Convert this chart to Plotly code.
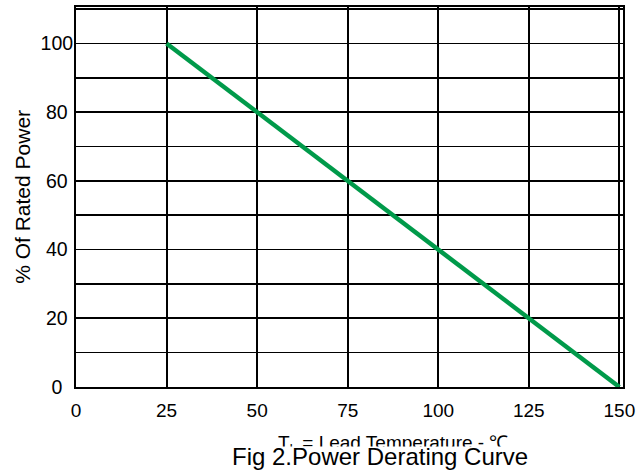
import plotly.graph_objects as go

# Data
temperature = [25, 150]
rated_power = [100, 0]
x_ticks = [0, 25, 50, 75, 100, 125, 150]
y_ticks = [0, 20, 40, 60, 80, 100]
y_tick_labels = ["0", "20", "40", "60", "80", "100"]

FONT = "Arial, Liberation Sans, sans-serif"

# pad labels (figure / punctuation spaces) so they look centred in a column
pad = {1: "\u2007", 2: "\u2008", 3: ""}
y_text = [t + pad[len(t)] for t in y_tick_labels]

fig = go.Figure()
fig.add_trace(go.Scatter(
    x=temperature, y=rated_power, mode="lines",
    line=dict(color="#009a4a", width=4.5),
    showlegend=False, hoverinfo="skip",
))

fig.update_layout(
    width=643, height=475,
    margin=dict(l=76, r=20, t=5, b=88),
    paper_bgcolor="white", plot_bgcolor="white",
    font=dict(family=FONT, size=19, color="black"),
    xaxis=dict(
        range=[0, 151], tickvals=x_ticks, ticks="", ticklen=0,
        showgrid=True, gridcolor="black", gridwidth=2,
        showline=True, linecolor="black", linewidth=2, mirror=True,
        zeroline=False, ticklabelstandoff=5,
        tickfont=dict(family=FONT, size=19),
    ),
    yaxis=dict(
        range=[0, 110.6], tickvals=y_ticks, ticktext=y_text, ticks="", ticklen=0,
        showgrid=True, gridcolor="black", gridwidth=1.6,
        minor=dict(dtick=10, tick0=0, showgrid=True, gridcolor="black", gridwidth=1.6),
        showline=True, linecolor="black", linewidth=2, mirror=True,
        zeroline=False, ticklabelstandoff=-3,
        tickfont=dict(family=FONT, size=19.5),
    ),
    annotations=[
        dict(text="% Of Rated Power", textangle=-90, xref="paper", yref="paper",
             x=-0.099, y=0.5, xanchor="center", yanchor="middle", showarrow=False,
             font=dict(family=FONT, size=21)),
        dict(text="T<sub>L</sub> = Lead Temperature - ℃", xref="paper", yref="paper",
             x=0.579, y=-0.151, xanchor="center", yanchor="middle", showarrow=False,
             font=dict(family=FONT, size=19)),
        dict(text="Fig 2.Power Derating Curve", xref="paper", yref="paper",
             x=0.556, y=-0.1545, xanchor="center", yanchor="top", showarrow=False,
             bgcolor="white", height=22, valign="bottom",
             font=dict(family=FONT, size=24)),
    ],
)

fig.write_html(
    "out.html",
    config={"displayModeBar": False, "staticPlot": True},
    post_script="document.body.style.margin='0';document.body.style.padding='0';"
                "document.body.style.overflow='hidden';"
                "document.documentElement.style.overflow='hidden';",
)
